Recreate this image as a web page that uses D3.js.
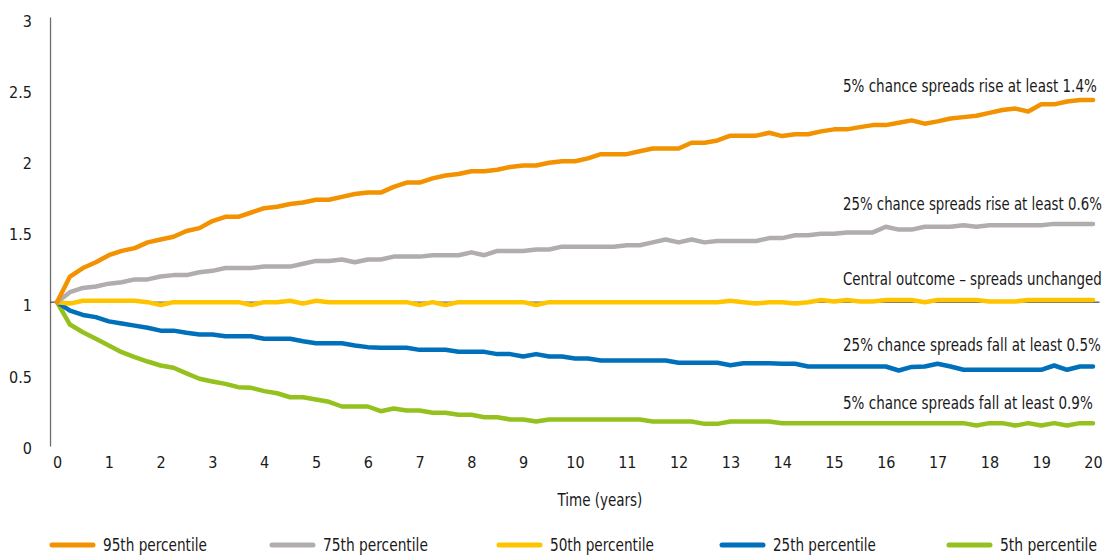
<!DOCTYPE html>
<html><head><meta charset="utf-8">
<script src="https://cdn.jsdelivr.net/npm/d3@7"></script>
<style>
html,body{margin:0;padding:0;background:#fff;}
svg text{font-family:'DejaVu Sans Condensed','Liberation Sans Narrow','Roboto',sans-serif;fill:#1a1a1a;}
</style></head>
<body>
<svg id="chart" width="1106" height="555"></svg>
<script>
// time axis: quarterly steps 0 .. 20 years
const years = d3.range(0, 81).map(i => i / 4);
const xTickLabels = [0,1,2,3,4,5,6,7,8,9,10,11,12,13,14,15,16,17,18,19,20];
const yTickLabels = [0, 0.5, 1, 1.5, 2, 2.5, 3];

const seriesNames = ["95th percentile","75th percentile","50th percentile","25th percentile","5th percentile"];
const seriesColors = ["#F39200","#B1ADAD","#FFC400","#0070BA","#95C11F"];

const p95 = [1.00,1.18,1.24,1.28,1.33,1.36,1.38,1.42,1.44,1.46,1.50,1.52,1.57,1.60,1.60,1.63,1.66,1.67,1.69,1.70,
  1.72,1.72,1.74,1.76,1.77,1.77,1.81,1.84,1.84,1.87,1.89,1.90,1.92,1.92,1.93,1.95,1.96,1.96,1.98,1.99,
  1.99,2.01,2.04,2.04,2.04,2.06,2.08,2.08,2.08,2.12,2.12,2.136,2.17,2.17,2.17,2.19,2.167,2.18,2.18,2.20,
  2.214,2.214,2.23,2.244,2.244,2.26,2.277,2.254,2.27,2.29,2.30,2.31,2.33,2.35,2.36,2.34,2.39,2.39,2.41,2.42,2.42];
const p75 = [1.00,1.07,1.10,1.11,1.13,1.14,1.16,1.16,1.18,1.19,1.19,1.21,1.22,1.24,1.24,1.24,1.25,1.25,1.25,1.27,
  1.29,1.29,1.30,1.28,1.30,1.30,1.32,1.32,1.32,1.33,1.33,1.33,1.35,1.33,1.36,1.36,1.36,1.37,1.37,1.39,
  1.39,1.39,1.39,1.39,1.40,1.40,1.42,1.44,1.42,1.44,1.42,1.43,1.43,1.43,1.43,1.45,1.45,1.47,1.47,1.48,
  1.48,1.49,1.49,1.49,1.53,1.51,1.51,1.53,1.53,1.53,1.54,1.53,1.54,1.54,1.54,1.54,1.54,1.55,1.55,1.55,1.55];
const p50 = [1.00,0.99,1.01,1.01,1.01,1.01,1.01,1.00,0.98,1.00,1.00,1.00,1.00,1.00,1.00,0.98,1.00,1.00,1.01,0.99,
  1.01,1.00,1.00,1.00,1.00,1.00,1.00,1.00,0.98,1.00,0.98,1.00,1.00,1.00,1.00,1.00,1.00,0.98,1.00,1.00,
  1.00,1.00,1.00,1.00,1.00,1.00,1.00,1.00,1.00,1.00,1.00,1.00,1.01,1.00,0.99,1.00,1.00,0.99,1.00,1.015,
  1.005,1.015,1.005,1.005,1.015,1.015,1.015,1.00,1.015,1.015,1.015,1.015,1.005,1.005,1.005,1.015,1.015,1.015,1.015,1.015,1.015];
const p25 = [1.00,0.94,0.91,0.895,0.865,0.85,0.835,0.82,0.80,0.80,0.785,0.773,0.773,0.76,0.76,0.76,0.743,0.743,0.743,0.726,
  0.712,0.712,0.712,0.696,0.684,0.68,0.68,0.68,0.665,0.665,0.665,0.651,0.651,0.651,0.635,0.635,0.618,0.635,0.618,0.618,
  0.604,0.604,0.59,0.59,0.59,0.59,0.59,0.59,0.574,0.574,0.574,0.574,0.557,0.571,0.571,0.571,0.567,0.567,0.548,0.548,
  0.548,0.548,0.548,0.548,0.548,0.52,0.545,0.548,0.567,0.548,0.525,0.525,0.525,0.525,0.525,0.525,0.525,0.555,0.525,0.548,0.548];
const p5 = [1.00,0.843,0.789,0.743,0.696,0.649,0.614,0.583,0.555,0.539,0.50,0.462,0.443,0.426,0.403,0.398,0.375,0.36,0.332,0.332,
  0.316,0.30,0.267,0.267,0.267,0.234,0.253,0.239,0.239,0.223,0.223,0.209,0.209,0.192,0.192,0.176,0.176,0.162,0.176,0.176,
  0.176,0.176,0.176,0.176,0.176,0.176,0.162,0.162,0.162,0.162,0.145,0.145,0.162,0.162,0.162,0.162,0.15,0.15,0.15,0.15,
  0.15,0.15,0.15,0.15,0.15,0.15,0.15,0.15,0.15,0.15,0.15,0.133,0.15,0.15,0.133,0.15,0.133,0.15,0.133,0.15,0.15];

const annotations = ["5% chance spreads rise at least 1.4%","25% chance spreads rise at least 0.6%",
  "Central outcome – spreads unchanged","25% chance spreads fall at least 0.5%","5% chance spreads fall at least 0.9%"];
const annotationY = [2.48, 1.65, 1.12, 0.66, 0.25];

const allSeries = [p95, p75, p50, p25, p5];

const svg = d3.select("#chart");
const x = d3.scaleLinear().domain([0, 20]).range([57, 1093]);
const y = d3.scaleLinear().domain([0, 3]).range([444.5, 17.5]);
const half = (x(0.25) - x(0)) / 2;
const FONT = "'DejaVu Sans Condensed','Liberation Sans Narrow',sans-serif";

// place a text at (px,py) and squeeze it horizontally to width w
function placeText(txt, px, py, size, w, anchor) {
  const t = svg.append("text").attr("font-size", size).text(txt);
  const natural = t.node().getComputedTextLength();
  const s = Math.min(1, w / natural);
  const ox = anchor === "middle" ? -w / 2 : 0;
  t.attr("transform", `translate(${px + ox},${py}) scale(${s},1)`);
  return t;
}

// y axis line
svg.append("line").attr("x1", x(0) - half).attr("x2", x(0) - half)
  .attr("y1", y(3)).attr("y2", y(0) + 2).attr("stroke", "#6d6d6d").attr("stroke-width", 1.3);

// y tick labels
const yAxis = d3.axisLeft(y).tickValues(yTickLabels).tickSize(0).tickPadding(0).tickFormat(d => String(d));
const yg = svg.append("g").attr("transform", "translate(32,0)").call(yAxis);
yg.select(".domain").remove();
yg.selectAll("text").attr("font-size", 16).attr("dy", "0.55em").attr("text-anchor","end")
  .style("font-family", FONT).attr("fill","#1a1a1a");

// x tick labels
const xAxis = d3.axisBottom(x).tickValues(xTickLabels).tickSize(0).tickPadding(0).tickFormat(d => String(d));
const xg = svg.append("g").attr("transform", "translate(0,460)").call(xAxis);
xg.select(".domain").remove();
xg.selectAll("text").attr("font-size", 16).attr("dy", "0.5em")
  .style("font-family", FONT).attr("fill","#1a1a1a");

// horizontal reference line at 1
svg.append("line").attr("x1", x(0) - half).attr("x2", x(20) + half)
  .attr("y1", y(1)).attr("y2", y(1)).attr("stroke", "#222").attr("stroke-width", 1);

// axis title
placeText("Time (years)", 600, 506, 17, 85, "middle");

// lines
const line = d3.line().x((d, i) => x(years[i])).y(d => y(d));
[4,3,2,1,0].forEach(k => {
  svg.append("path").datum(allSeries[k]).attr("d", line)
    .attr("fill", "none").attr("stroke", seriesColors[k]).attr("stroke-width", 4.5)
    .attr("stroke-linejoin", "round").attr("stroke-linecap", "round");
});

// annotations
const annotationW = [254, 259, 259, 258, 250];
annotations.forEach((t, k) => {
  placeText(t, 843, y(annotationY[k]), 18, annotationW[k], "start");
});

// legend
const legendX = [50, 270, 497, 720, 947];
const legendW = [104, 105, 104, 103, 97];
seriesNames.forEach((n, k) => {
  svg.append("line").attr("x1", legendX[k] + 2).attr("x2", legendX[k] + 43)
    .attr("y1", 545).attr("y2", 545).attr("stroke", seriesColors[k]).attr("stroke-width", 5)
    .attr("stroke-linecap", "round");
  placeText(n, legendX[k] + 53, 551, 17, legendW[k], "start");
});
</script>
</body></html>
